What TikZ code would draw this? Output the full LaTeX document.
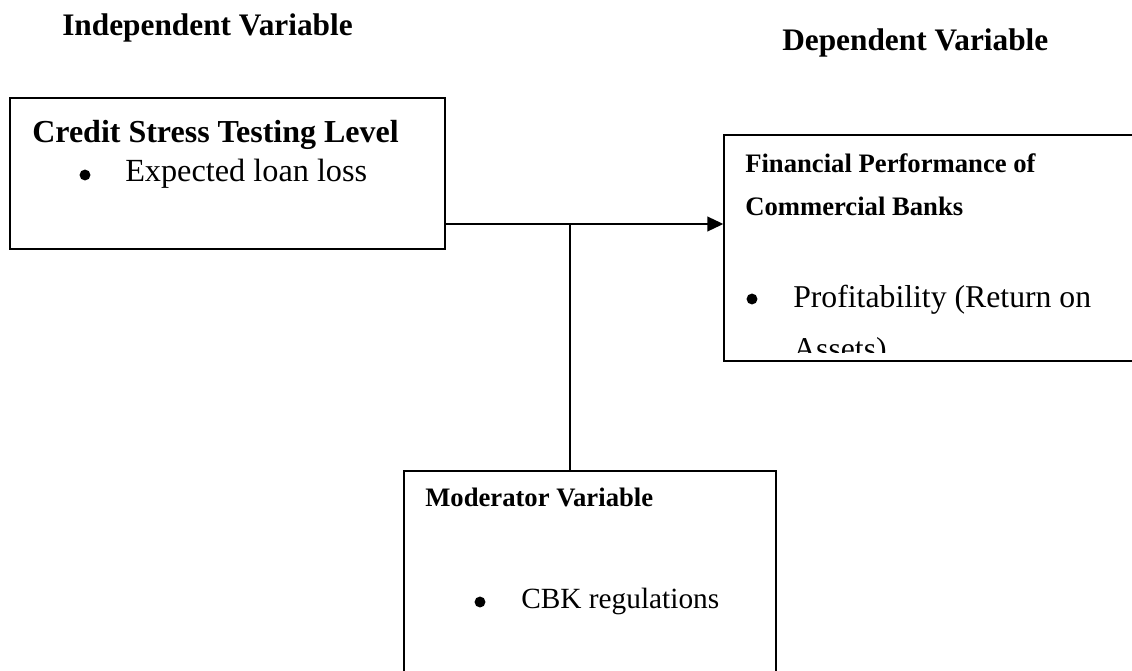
\documentclass[tikz,border=0pt]{standalone}
\usepackage{fontspec}
\setmainfont{Liberation Serif}
\usetikzlibrary{arrows.meta,fit}

\begin{document}
\begin{tikzpicture}[x=0.75pt, y=-0.75pt,
	box/.style={draw, line width=1pt, rectangle, inner sep=0pt},
	hd/.style={anchor=base west, inner sep=0pt, font=\fontsize{23.5}{28}\selectfont\bfseries},
	sub/.style={anchor=base west, inner sep=0pt, font=\fontsize{20}{24}\selectfont\bfseries},
	txt/.style={anchor=base west, inner sep=0pt, font=\fontsize{23.8}{28}\selectfont},
	dot/.style={circle, fill, inner sep=0pt, minimum size=8.2pt}]
	\useasboundingbox (0,0) rectangle (1132,671);
	\clip (0,0) rectangle (1132,671);
	% headings
	\node[hd] (indep) at (62,35) {Independent Variable};
	\node[hd] (dep) at (782,50) {Dependent Variable};
	% boxes (right and lower ones run off the page)
	\node[box, fit={(10,98) (445,249)}] (stress) {};
	\node[box, fit={(724,135) (1150,361)}] (perf) {};
	\node[box, fit={(404,471) (776,700)}] (mod) {};
	% independent
	\node[hd, font=\fontsize{24}{28}\selectfont\bfseries] (stresstitle) at (32,142) {Credit Stress Testing Level};
	\node[dot] (dot1) at (85,175) {};
	\node[txt, font=\fontsize{24.2}{28}\selectfont] (loss) at (125,181) {Expected loan loss};
	% dependent
	\node[sub] (perftitle) at (745,172) {Financial Performance of};
	\node[sub] (perftitleb) at (745,215) {Commercial Banks};
	\node[dot] (dot2) at (752,299) {};
	\node[txt] (roa) at (793,307) {Profitability (Return on};
	\begin{scope}
		\clip (724,135) rectangle (1132,352);
		\node[txt] (roab) at (793,359) {Assets)};
	\end{scope}
	% moderator
	\node[sub] (modtitle) at (425,506) {Moderator Variable};
	\node[dot] (dot3) at (480,602) {};
	\node[txt, font=\fontsize{22}{26}\selectfont] (cbk) at (521,608) {CBK regulations};
	% links
	\coordinate (join) at (570,224);
	\draw[line width=1.5pt, -{Triangle[length=12pt,width=11pt]}] (stress.east |- join) -- (perf.west |- join);
	\draw[line width=1pt] (join) -- (join |- mod.north);
\end{tikzpicture}
\end{document}
